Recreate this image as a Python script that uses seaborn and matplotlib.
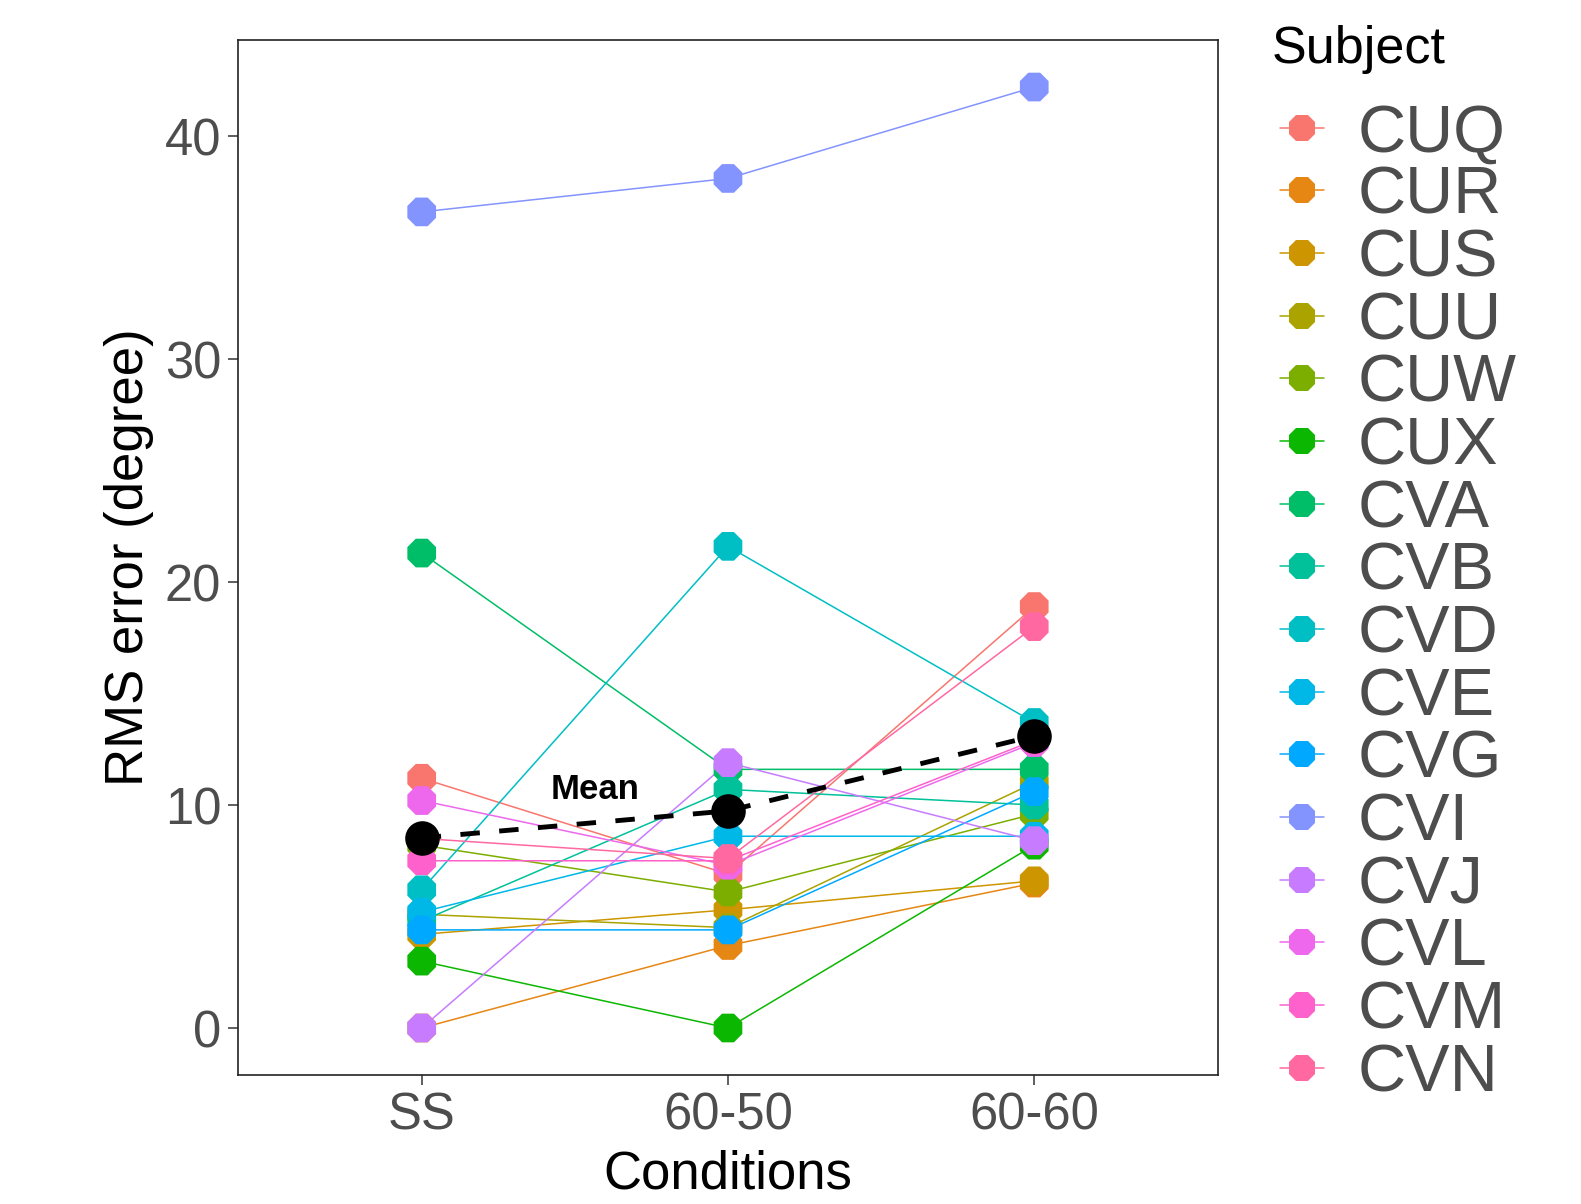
import numpy as np
import pandas as pd
import matplotlib
matplotlib.use('Agg')
import matplotlib.pyplot as plt
from matplotlib.lines import Line2D
import seaborn as sns

conditions = ['SS', '60-50', '60-60']
subjects = ['CUQ', 'CUR', 'CUS', 'CUU', 'CUW', 'CUX', 'CVA', 'CVB',
            'CVD', 'CVE', 'CVG', 'CVI', 'CVJ', 'CVL', 'CVM', 'CVN']
# RMS error per subject for each condition
rms_ss = [11.2, 0.0, 4.2, 5.1, 8.2, 3.0, 21.3, 4.8,
          6.2, 5.2, 4.4, 36.6, 0.0, 10.2, 7.5, 8.5]
rms_6050 = [6.9, 3.7, 5.3, 4.5, 6.1, 0.0, 11.6, 10.7,
            21.6, 8.6, 4.4, 38.1, 11.9, 7.3, 7.5, 7.6]
rms_6060 = [18.9, 6.5, 6.6, 11.0, 9.6, 8.2, 11.6, 10.0,
            13.7, 8.6, 10.6, 42.2, 8.4, 12.8, 12.9, 18.0]
# ggplot hue_pal()(16)
palette = ['#F8766D', '#E68613', '#CD9600', '#ABA300', '#7CAE00', '#0CB702',
           '#00BE67', '#00C19A', '#00BFC4', '#00B8E7', '#00A9FF', '#8494FF',
           '#C77CFF', '#ED68ED', '#FF61CC', '#FF68A1']

df = pd.DataFrame({
    'Condition': np.repeat(conditions, len(subjects)),
    'Subject': subjects * 3,
    'RMS': rms_ss + rms_6050 + rms_6060,
})
mean_df = df.groupby('Condition', sort=False)['RMS'].mean().reindex(conditions).reset_index()

sns.set_theme(style='white')
plt.rcParams['font.family'] = ['Liberation Sans', 'DejaVu Sans']

fig = plt.figure(figsize=(15.81, 12.04), dpi=100)
fig.set_facecolor('white')
ax = fig.add_axes([0.1505, 0.1071, 0.6199, 0.8597])

# subject lines, then points on top (ggplot order)
sns.lineplot(data=df, x='Condition', y='RMS', hue='Subject', hue_order=subjects,
             palette=palette, estimator=None, sort=False, linewidth=1.1,
             legend=False, ax=ax)
sns.scatterplot(data=df, x='Condition', y='RMS', hue='Subject', hue_order=subjects,
                palette=palette, marker='8', s=500, linewidth=0, legend=False,
                zorder=3, ax=ax)

# mean
sns.lineplot(data=mean_df, x='Condition', y='RMS', color='black', linewidth=3.5,
             linestyle=(0, (4, 4)), sort=False, ax=ax, zorder=4)
sns.scatterplot(data=mean_df, x='Condition', y='RMS', color='black', marker='o',
                s=620, linewidth=0, zorder=5, ax=ax)
ax.text(0.566, 10.7, 'Mean', fontsize=25, fontweight='bold', color='black',
        ha='center', va='center', zorder=6)

ax.set_xlim(-0.6, 2.6)
ax.set_ylim(-2.11, 44.31)
ax.set_yticks([0, 10, 20, 30, 40])
ax.set_xlabel('Conditions', fontsize=38, color='black', labelpad=6)
ax.set_ylabel('RMS error (degree)', fontsize=38, color='black', labelpad=8)
ax.tick_params(axis='both', labelsize=36.5, labelcolor='#4D4D4D', color='#333333',
               length=7, width=1.1, direction='out', bottom=True, left=True, pad=5)
for sp in ax.spines.values():
    sp.set_color('#222222')
    sp.set_linewidth(1.2)
ax.grid(False)

handles = [Line2D([0], [0], color=c, lw=1.1, marker='8', markersize=21,
                  markeredgewidth=0) for c in palette]
leg = fig.legend(handles, subjects, loc='upper left', bbox_to_anchor=(0.7886, 0.942),
                 frameon=False, fontsize=48, labelspacing=0.01, handlelength=0.66,
                 handletextpad=0.5, borderpad=0)
for t in leg.get_texts():
    t.set_color('#4D4D4D')
fig.text(1272 / 1581, 1 - 49 / 1204, 'Subject', fontsize=37.5, color='black',
         ha='left', va='center')

plt.savefig('out.png', dpi=100)
